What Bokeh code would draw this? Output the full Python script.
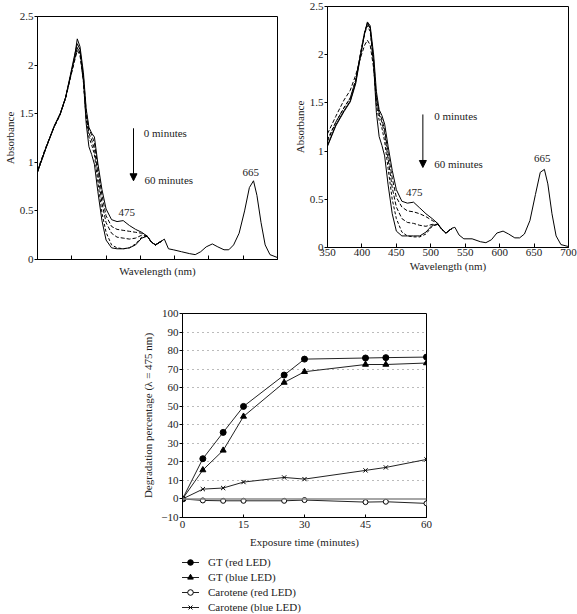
from bokeh.plotting import figure
from bokeh.models import Range1d, FixedTicker, Arrow, NormalHead, Label, Legend, LegendItem, Span
from bokeh.layouts import column, row
from bokeh.embed import file_html
from bokeh.resources import INLINE

FONT = "Liberation Serif"

# ---------------- data ----------------
wl_head = [350, 362, 374, 383, 391, 398, 404, 408, 412, 417, 421, 425, 429, 433,
           438, 444, 450, 458, 466, 475, 484, 493, 502, 510, 516, 522]
wl_tail = [531, 535, 541, 548, 560, 572, 580, 588, 596, 605, 613, 622, 629, 636,
           644, 652, 659, 665, 670, 676, 682, 689, 700]

# left panel (red LED)
left_0min = [0.90, 1.14, 1.37, 1.50, 1.67, 1.88, 2.08, 2.27, 2.19, 1.92, 1.55, 1.36, 1.30, 1.26,
             0.99, 0.72, 0.52, 0.41, 0.39, 0.40, 0.35, 0.31, 0.28, 0.24, 0.18, 0.15]
left_15min = [0.91, 1.15, 1.36, 1.49, 1.66, 1.88, 2.06, 2.18, 2.13, 1.88, 1.52, 1.34, 1.28, 1.20,
              0.95, 0.66, 0.45, 0.34, 0.31, 0.30, 0.29, 0.28, 0.27, 0.24, 0.18, 0.15]
left_30min = [0.92, 1.15, 1.36, 1.49, 1.66, 1.87, 2.04, 2.15, 2.10, 1.84, 1.48, 1.30, 1.23, 1.14,
              0.88, 0.58, 0.38, 0.27, 0.23, 0.22, 0.21, 0.22, 0.25, 0.24, 0.18, 0.15]
left_45min = [0.90, 1.14, 1.36, 1.49, 1.66, 1.88, 2.06, 2.18, 2.12, 1.82, 1.44, 1.26, 1.18, 1.08,
              0.80, 0.48, 0.28, 0.15, 0.12, 0.11, 0.12, 0.16, 0.23, 0.24, 0.18, 0.15]
left_60min = [0.90, 1.14, 1.36, 1.50, 1.67, 1.90, 2.10, 2.22, 2.16, 1.84, 1.40, 1.16, 1.08, 0.98,
              0.70, 0.40, 0.20, 0.12, 0.11, 0.11, 0.12, 0.15, 0.22, 0.24, 0.18, 0.15]
left_tail = [0.19, 0.21, 0.11, 0.10, 0.08, 0.06, 0.05, 0.08, 0.13, 0.16, 0.13, 0.10, 0.10, 0.15,
             0.27, 0.50, 0.74, 0.81, 0.66, 0.38, 0.15, 0.05, 0.02]

# right panel (blue LED)
right_0min = [1.05, 1.26, 1.41, 1.51, 1.70, 1.99, 2.23, 2.34, 2.30, 2.00, 1.62, 1.43, 1.37, 1.28,
              1.05, 0.80, 0.60, 0.48, 0.46, 0.47, 0.41, 0.35, 0.30, 0.25, 0.19, 0.15]
right_15min = [1.18, 1.36, 1.53, 1.63, 1.79, 1.97, 2.10, 2.15, 2.10, 1.86, 1.55, 1.40, 1.33, 1.22,
               0.98, 0.72, 0.52, 0.42, 0.38, 0.37, 0.35, 0.32, 0.28, 0.25, 0.19, 0.15]
right_30min = [1.10, 1.30, 1.45, 1.55, 1.74, 2.02, 2.24, 2.32, 2.27, 1.95, 1.55, 1.38, 1.30, 1.18,
               0.92, 0.62, 0.42, 0.30, 0.26, 0.25, 0.23, 0.22, 0.24, 0.24, 0.19, 0.15]
right_45min = [1.12, 1.30, 1.45, 1.55, 1.74, 2.01, 2.22, 2.30, 2.24, 1.90, 1.48, 1.32, 1.24, 1.10,
               0.82, 0.50, 0.30, 0.16, 0.12, 0.11, 0.11, 0.14, 0.22, 0.24, 0.19, 0.15]
right_60min = [1.06, 1.27, 1.42, 1.52, 1.72, 2.00, 2.22, 2.33, 2.28, 1.90, 1.40, 1.15, 1.06, 0.95,
               0.65, 0.35, 0.17, 0.12, 0.12, 0.12, 0.12, 0.16, 0.23, 0.24, 0.19, 0.15]
right_tail = [0.20, 0.21, 0.13, 0.09, 0.09, 0.06, 0.05, 0.08, 0.15, 0.17, 0.14, 0.10, 0.10, 0.14,
              0.28, 0.55, 0.78, 0.81, 0.66, 0.35, 0.12, 0.03, 0.01]

abs_ticks = [0, 0.5, 1, 1.5, 2, 2.5]
wl_ticks = [350, 400, 450, 500, 550, 600, 650, 700]

# degradation chart
time_min = [0, 5, 10, 15, 25, 30, 45, 50, 60]
gt_red = [0, 21.7, 35.9, 49.9, 66.8, 75.4, 76.0, 76.2, 76.5]
gt_blue = [0, 15.6, 26.2, 44.5, 62.8, 68.6, 72.5, 72.5, 73.3]
car_red = [0, -0.8, -1.0, -1.0, -1.0, -0.6, -1.7, -1.5, -2.4]
car_blue = [0, 5.3, 5.9, 9.1, 11.6, 10.7, 15.4, 17.0, 21.3]
series_names = ["GT (red LED)", "GT (blue LED)", "Carotene (red LED)", "Carotene (blue LED)"]
time_ticks = [0, 15, 30, 45, 60]
deg_ticks = [-10, 0, 10, 20, 30, 40, 50, 60, 70, 80, 90, 100]

FS = "11px"
TXT = "#222222"


def style_axes(p, fs=FS):
    for ax in (p.xaxis[0], p.yaxis[0]):
        ax.axis_line_color = "black"
        ax.major_tick_line_color = "black"
        ax.minor_tick_line_color = None
        ax.major_label_text_font = FONT
        ax.major_label_text_font_size = fs
        ax.major_label_text_color = TXT
        ax.axis_label_text_font = FONT
        ax.axis_label_text_font_size = fs
        ax.axis_label_text_font_style = "normal"
        ax.axis_label_text_color = TXT
        ax.major_label_standoff = 1
        ax.axis_label_standoff = 1
    p.outline_line_color = "black"
    p.outline_line_alpha = 1
    p.background_fill_color = "white"
    p.border_fill_color = "white"


def spectra(width, height, mb, curves, tail, show_xlabels, texts):
    p = figure(width=width, height=height, output_backend="svg", toolbar_location=None,
               x_range=Range1d(350, 700), y_range=Range1d(0, 2.5),
               min_border_left=mb[0], min_border_right=mb[1],
               min_border_top=mb[2], min_border_bottom=mb[3])
    style_axes(p)
    p.grid.visible = False
    p.xaxis.ticker = FixedTicker(ticks=wl_ticks)
    p.yaxis.ticker = FixedTicker(ticks=abs_ticks)
    p.xaxis.major_tick_in = 4
    p.xaxis.major_tick_out = 0
    p.yaxis.major_tick_in = 0
    p.yaxis.major_tick_out = 3
    p.xaxis.axis_label = "Wavelength (nm)"
    p.yaxis.axis_label = "Absorbance"
    if not show_xlabels:
        p.xaxis.major_label_overrides = {t: "" for t in wl_ticks}
        p.xaxis.major_label_standoff = 0
        p.xaxis.axis_label_standoff = 5
    for vals, dash in curves:
        p.line(wl_head + wl_tail[:1], vals + tail[:1], line_color="black",
               line_width=1, line_dash=dash)
    p.line(wl_head[-1:] + wl_tail, [curves[0][0][-1]] + tail, line_color="black", line_width=1)
    ax, ay0, ay1, t0, t1, l665, l475 = texts
    p.add_layout(Arrow(end=NormalHead(size=7, fill_color="black", line_color="black"),
                       x_start=ax, y_start=ay0, x_end=ax, y_end=ay1,
                       line_color="black", line_width=1))
    for (x, y), t, al in [(t0, "0 minutes", "left"), (t1, "60 minutes", "left"),
                          (l665, "665", "center"), (l475, "475", "center")]:
        p.add_layout(Label(x=x, y=y, text=t, text_font=FONT, text_align=al,
                           text_font_size=FS, text_baseline="middle", text_color=TXT))
    return p


# frame: x 34-277, y 16-259
p1 = spectra(290, 282, (34, 13, 16, 23),
             [(left_0min, "solid"), (left_15min, "4 2"), (left_30min, "4 2"),
              (left_45min, "3 2"), (left_60min, "solid")],
             left_tail, False,
             (490, 1.35, 0.81, (505, 1.30), (506, 0.82), (661, 0.90), (480, 0.48)))
# frame: x 325-568, y 6-247
p2 = spectra(287, 282, (35, 9, 6, 35),
             [(right_0min, "solid"), (right_15min, "4 2"), (right_30min, "4 2"),
              (right_45min, "3 2"), (right_60min, "solid")],
             right_tail, True,
             (488.5, 1.38, 0.83, (505, 1.36), (505, 0.87), (662, 0.92), (476, 0.57)))

# ---------------- degradation chart (frame x 182-426, y 313-517) ----------------
p3 = figure(width=577, height=268, output_backend="svg", toolbar_location=None,
            x_range=Range1d(0, 60), y_range=Range1d(-10, 100),
            min_border_left=182, min_border_right=151, min_border_top=31, min_border_bottom=33)
style_axes(p3)
p3.xaxis.ticker = FixedTicker(ticks=time_ticks)
p3.yaxis.ticker = FixedTicker(ticks=deg_ticks)
p3.xaxis.major_tick_in = 3
p3.xaxis.major_tick_out = 0
p3.yaxis.major_tick_in = 0
p3.yaxis.major_tick_out = 3
p3.xaxis.major_label_standoff = 3
p3.xaxis.axis_label_standoff = 5
p3.yaxis.axis_label_standoff = 4
p3.xaxis.axis_label = "Exposure time (minutes)"
p3.yaxis.axis_label = "Degradation percentage (\u03bb = 475 nm)"
p3.xgrid.visible = False
p3.ygrid.ticker = FixedTicker(ticks=[10, 20, 30, 40, 50, 60, 70, 80, 90])
p3.ygrid.grid_line_color = "#777777"
p3.ygrid.grid_line_dash = "1 4"
p3.ygrid.grid_line_width = 1
p3.add_layout(Span(location=0, dimension="width", line_color="#888888", line_width=1.5))

lc = "#222222"
series = [gt_red, gt_blue, car_red, car_blue]
markers = [("circle", 6, "black"), ("triangle", 6, "black"), ("circle", 5, "white"), ("x", 6, None)]
for vals, (mk, sz, fc) in zip(series, markers):
    p3.line(time_min, vals, line_color=lc, line_width=1)
    p3.scatter(time_min, vals, marker=mk, size=sz, fill_color=fc, line_color="black", line_width=1)

# ---------------- legend strip (frame aligned with p3's frame) ----------------
# the series are drawn again here off-screen only so that the legend has its glyphs
p4 = figure(width=577, height=64, output_backend="svg", toolbar_location=None,
            x_range=Range1d(1000, 1001), y_range=Range1d(1000, 1001),
            min_border_left=182, min_border_right=151, min_border_top=0, min_border_bottom=0)
p4.axis.visible = False
p4.grid.visible = False
p4.outline_line_color = None
p4.border_fill_color = "white"
p4.background_fill_color = "white"
items = []
for name, vals, (mk, sz, fc) in zip(series_names, series, markers):
    r = p4.line(time_min, vals, line_color=lc, line_width=1)
    s = p4.scatter(time_min, vals, marker=mk, size=sz - 1, fill_color=fc, line_color="black",
                   line_width=1)
    items.append(LegendItem(label=name, renderers=[r, s]))
legend = Legend(items=items, location=(-1, 0), padding=0, spacing=1, margin=0,
                glyph_width=18, glyph_height=14, label_height=14, label_standoff=9,
                label_text_font=FONT, label_text_font_size=FS, label_text_color=TXT,
                border_line_color=None, background_fill_alpha=0)
p4.add_layout(legend, "center")

layout = column(row(column(p1), column(p2)), p3, p4)
open("out.html", "w").write(file_html(layout, INLINE))
